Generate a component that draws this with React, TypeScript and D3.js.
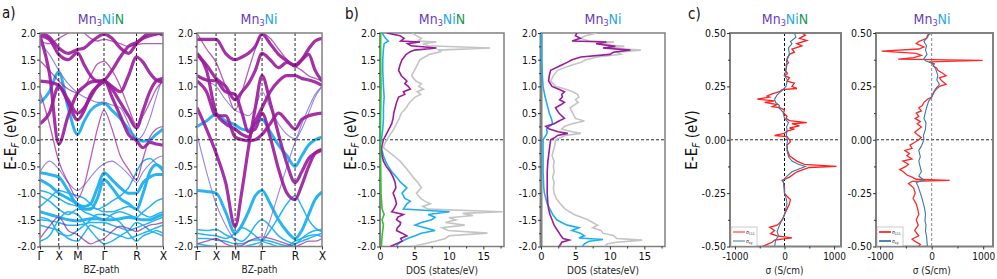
import * as d3 from 'd3';
import React, { useRef, useEffect } from 'react';

// ---- band structure (a) ----
const kPts = [0, 0.25, 0.5, 0.75, 1.0, 1.18, 1.35, 1.53, 1.707, 1.92, 2.14, 2.36, 2.573, 2.75, 2.93, 3.1, 3.28];
const kLabelPos = [0, 0.5, 1.0, 1.707, 2.573, 3.28];
const kLabels = ['Γ', 'X', 'M', 'Γ', 'R', 'X'];

const a1PurpleThick = [
  [1.95, 1.25, -0.08, 0.45, 0.88, 1.0, 1.08, 1.1, 1.1, 0.95, 0.7, 0.45, 0.22, 0.55, 0.9, 1.1, 1.15],
  [1.1, 1.08, 1.02, 0.7, 0.37, 0.55, 0.85, 1.0, 1.1, 1.3, 1.55, 1.75, 1.82, 1.9, 1.95, 1.98, 2.0],
  [2.02, 1.92, 1.72, 1.62, 1.69, 1.72, 1.82, 1.92, 1.98, 1.9, 1.72, 1.62, 1.8, 1.92, 2.0, 2.0, 1.96],
  [1.95, 1.88, 1.6, 1.5, 1.63, 1.4, 1.2, 1.1, 1.1, 1.0, 0.9, 1.2, 1.55, 1.45, 1.25, 1.12, 1.08],
  [0.3, 0.5, 1.0, 0.75, 0.5, 0.6, 0.8, 1.0, 1.12, 0.8, 0.45, 0.1, -0.02, -0.15, -0.05, -0.08, -0.1],
];
const a1PurpleThin = [
  [1.48, 1.3, 1.1, 0.95, 0.88, 0.98, 1.2, 1.42, 1.47, 1.3, 1.0, 0.6, 0.28, 0.45, 0.7, 0.95, 1.1],
  [0.9, 0.3, -0.4, -0.8, -1.1, -0.85, -0.35, 0.2, 0.55, 0.2, -0.3, -0.55, -0.75, -0.35, 0.05, 0.2, 0.25],
  [-1.85, -1.62, -1.45, -1.7, -1.78, -1.88, -1.95, -1.9, -1.85, -1.72, -1.62, -1.66, -1.72, -1.66, -1.6, -1.58, -1.55],
  [1.85, 1.8, 1.9, 2.0, 2.1, 2.0, 1.9, 1.85, 1.88, 1.85, 1.8, 1.75, 1.78, 1.8, 1.8, 1.8, 1.8],
];
const a1Mixed = [
  [-0.6, -0.4, -0.55, -0.8, -0.95, -0.85, -0.7, -0.55, -0.45, -0.4, -0.5, -0.65, -0.8, -0.6, -0.45, -0.35, -0.3],
  [1.8, 1.6, 1.3, 1.05, 0.88, 0.8, 0.75, 0.7, 0.7, 0.65, 0.6, 0.3, 0.0, 0.1, 0.4, 0.8, 1.2],
];
const a1BlueThick = [
  [-0.62, -0.65, -0.7, -0.95, -1.22, -1.25, -1.2, -0.9, -0.62, -0.75, -0.9, -1.0, -1.0, -0.8, -0.7, -0.65, -0.65],
  [-0.75, -0.85, -1.0, -1.1, -1.2, -1.3, -1.3, -1.1, -0.75, -0.9, -1.1, -1.2, -1.3, -1.0, -0.6, -0.47, -0.55],
  [-1.35, -1.4, -1.45, -1.5, -1.52, -1.5, -1.48, -1.48, -1.5, -1.5, -1.48, -1.45, -1.48, -1.5, -1.5, -1.45, -1.4],
  [0.69, 0.9, 1.27, 0.6, 0.1, 0.35, 0.55, 0.65, 0.69, 0.55, 0.4, 0.2, 0.02, -0.03, 0.0, 0.1, 0.2],
];
const a1BlueThin = [
  [-1.05, -1.15, -1.3, -1.4, -1.3, -1.3, -1.28, -1.3, -1.35, -1.35, -1.3, -1.25, -1.3, -1.4, -1.45, -1.4, -1.35],
  [-1.5, -1.52, -1.55, -1.6, -1.6, -1.58, -1.55, -1.55, -1.55, -1.6, -1.65, -1.7, -1.65, -1.6, -1.55, -1.5, -1.45],
  [-1.6, -1.65, -1.7, -1.85, -1.9, -1.75, -1.6, -1.65, -1.7, -1.75, -1.8, -1.85, -1.8, -1.75, -1.7, -1.65, -1.6],
  [-1.25, -1.1, -0.95, -1.0, -1.05, -1.1, -1.2, -1.3, -1.25, -1.15, -1.05, -0.9, -0.6, -0.4, -0.35, -0.45, -0.6],
  [-1.9, -1.8, -1.5, -1.35, -1.4, -1.55, -1.7, -1.85, -1.95, -1.9, -1.8, -1.7, -1.55, -1.6, -1.7, -1.75, -1.8],
  [-0.95, -1.0, -1.1, -1.2, -1.25, -1.35, -1.4, -1.45, -1.5, -1.4, -1.35, -1.4, -1.45, -1.35, -1.25, -1.15, -1.1],
  [-1.45, -1.5, -1.75, -1.8, -1.7, -1.6, -1.5, -1.4, -1.4, -1.45, -1.55, -1.75, -1.9, -1.8, -1.75, -1.7, -1.75],
];

const a2PurpleThick = [
  [0.6, 0.2, -0.25, -0.8, -1.63, -0.95, -0.15, 0.6, 1.2, 0.7, 0.1, -0.45, -0.8, -0.6, -0.35, -0.25, -0.2],
  [1.2, 1.12, 1.1, 0.9, 0.85, 0.5, 0.15, 0.2, 0.5, 0.05, -0.55, -1.0, -1.12, -0.85, -0.5, -0.25, -0.18],
  [1.6, 1.4, 1.15, 1.0, 0.75, 0.9, 1.05, 1.3, 1.62, 1.5, 1.35, 1.45, 1.4, 1.5, 1.6, 1.3, 1.1],
  [1.88, 1.88, 1.88, 1.62, 1.5, 1.55, 1.62, 1.75, 1.98, 1.8, 1.6, 1.48, 1.38, 1.5, 1.7, 1.85, 1.9],
  [1.62, 1.3, 0.5, 0.3, 0.2, 0.1, 0.05, 0.35, 0.6, 0.9, 1.1, 1.2, 1.2, 1.15, 1.12, 1.08, 1.02],
  [1.1, 0.9, 0.45, 0.45, 0.05, 0.0, -0.02, 0.0, 0.1, 0.3, 0.5, 0.35, 0.2, 0.38, 0.45, 0.48, 0.5],
];
const a2PurpleThin = [
  [2.0, 1.7, 1.45, 1.0, 0.55, 0.9, 1.3, 1.7, 2.0, 1.9, 1.7, 1.5, 1.38, 1.3, 1.2, 1.15, 1.1],
  [-1.95, -1.9, -1.85, -1.95, -2.0, -1.98, -1.9, -1.85, -1.82, -1.85, -1.9, -1.95, -2.0, -1.95, -1.9, -1.9, -1.85],
];
const a2Mixed = [
  [0.1, -0.6, -1.2, -1.6, -1.9, -2.1, -2.2, -2.1, -1.9, -1.5, -1.0, -0.5, -0.05, 0.2, 0.5, 0.8, 1.0],
  [1.2, 1.1, 1.0, 0.75, 0.55, 0.5, 0.45, 0.6, 0.9, 0.6, 0.3, 0.1, 0.02, 0.3, 0.6, 0.85, 1.0],
];
const a2BlueThick = [
  [-0.95, -0.97, -1.0, -1.35, -1.75, -1.6, -1.35, -1.05, -0.95, -1.2, -1.5, -1.72, -1.85, -1.7, -1.4, -1.12, -0.98],
  [0.25, 0.35, 0.48, 0.35, 0.28, 0.2, 0.18, 0.3, 0.38, 0.15, -0.1, -0.3, -0.5, -0.3, -0.1, 0.0, 0.05],
];
const a2BlueThin = [
  [-1.68, -1.7, -1.68, -1.78, -1.85, -1.9, -1.8, -1.6, -1.5, -1.62, -1.8, -1.9, -1.95, -1.85, -1.75, -1.7, -1.68],
  [-1.85, -1.85, -1.88, -1.9, -1.95, -1.95, -1.9, -1.88, -1.88, -1.9, -1.95, -1.98, -1.9, -1.85, -1.8, -1.78, -1.82],
  [-1.95, -1.98, -2.0, -2.02, -2.05, -2.02, -1.98, -1.95, -1.9, -1.7, -1.45, -1.2, -1.05, -1.25, -1.5, -1.65, -1.72],
  [-1.75, -1.78, -1.8, -1.85, -1.75, -1.65, -1.7, -1.8, -1.9, -1.95, -2.0, -2.0, -1.95, -1.9, -1.85, -1.8, -1.75],
];

// ---- DOS (b): [E, states/eV] ----
const dosNiNTotal = [[2.0,4.6],[1.95,5.3],[1.9,6.0],[1.85,5.5],[1.83,8.2],[1.8,6.2],[1.76,7.0],[1.72,16.0],[1.68,8.5],[1.65,8.8],[1.6,7.2],[1.5,5.8],[1.4,5.4],[1.3,5.0],[1.2,4.6],[1.1,5.2],[1.05,6.0],[1.0,5.6],[0.95,6.3],[0.9,5.4],[0.85,5.9],[0.8,5.1],[0.7,4.3],[0.6,3.8],[0.5,3.1],[0.4,2.8],[0.3,2.4],[0.2,2.0],[0.1,1.5],[0.0,1.0],[-0.1,0.6],[-0.15,0.5],[-0.2,1.0],[-0.3,2.0],[-0.4,2.9],[-0.5,3.6],[-0.6,4.2],[-0.7,4.8],[-0.8,5.5],[-0.9,6.0],[-1.0,5.3],[-1.1,5.9],[-1.15,6.5],[-1.2,7.3],[-1.25,6.2],[-1.3,7.0],[-1.35,17.8],[-1.38,12.0],[-1.42,13.5],[-1.46,10.0],[-1.5,11.0],[-1.55,9.5],[-1.6,12.3],[-1.65,9.0],[-1.7,9.9],[-1.75,15.6],[-1.8,10.0],[-1.85,9.5],[-1.9,8.0],[-1.95,6.5],[-2.0,4.6]];
const dosNiNMn = [[2.0,1.0],[1.95,2.9],[1.9,3.5],[1.85,3.0],[1.83,5.8],[1.8,4.0],[1.76,4.5],[1.72,8.2],[1.68,5.0],[1.65,4.4],[1.6,3.8],[1.5,3.2],[1.4,2.9],[1.3,2.7],[1.2,3.1],[1.1,3.9],[1.05,3.6],[1.0,4.1],[0.95,4.4],[0.9,3.4],[0.85,3.6],[0.8,2.7],[0.7,2.4],[0.6,2.2],[0.5,2.0],[0.4,1.9],[0.3,1.7],[0.2,1.3],[0.1,0.9],[0.0,0.5],[-0.1,0.3],[-0.2,0.2],[-0.3,0.3],[-0.4,0.5],[-0.5,0.9],[-0.6,1.5],[-0.7,1.9],[-0.8,2.2],[-0.9,2.3],[-1.0,1.9],[-1.1,2.2],[-1.2,2.4],[-1.3,2.0],[-1.35,1.7],[-1.4,3.4],[-1.45,2.6],[-1.5,2.4],[-1.55,3.0],[-1.6,2.9],[-1.65,2.5],[-1.7,2.4],[-1.75,3.2],[-1.8,3.9],[-1.85,3.0],[-1.9,3.2],[-1.95,2.4],[-2.0,1.5]];
const dosNiNNi = [[2.0,0.3],[1.9,0.8],[1.85,1.2],[1.8,0.6],[1.7,0.5],[1.5,0.4],[1.3,0.4],[1.0,0.5],[0.8,0.6],[0.6,0.5],[0.4,0.5],[0.2,0.4],[0.0,0.2],[-0.1,0.0],[-0.2,0.3],[-0.3,0.5],[-0.4,0.8],[-0.5,1.2],[-0.6,1.7],[-0.7,2.4],[-0.8,3.0],[-0.9,3.9],[-1.0,3.2],[-1.1,3.6],[-1.15,4.4],[-1.2,3.9],[-1.3,3.4],[-1.35,10.1],[-1.4,7.0],[-1.45,8.0],[-1.5,7.5],[-1.55,6.0],[-1.6,5.1],[-1.65,6.5],[-1.7,8.0],[-1.75,6.0],[-1.8,5.1],[-1.85,4.0],[-1.9,3.2],[-1.95,2.6],[-2.0,2.4]];
const dosNiNN = [[2.0,0.1],[1.5,0.1],[1.0,0.15],[0.5,0.1],[0.0,0.05],[-0.5,0.1],[-1.0,0.15],[-1.3,0.3],[-1.4,0.6],[-1.5,0.3],[-1.6,0.5],[-1.8,0.3],[-2.0,0.2]];

const dosNiTotal = [[2.0,8.1],[1.95,6.5],[1.9,5.7],[1.85,7.0],[1.83,10.6],[1.79,8.5],[1.75,12.1],[1.72,10.0],[1.68,14.5],[1.64,11.0],[1.6,11.6],[1.55,8.2],[1.5,6.5],[1.45,5.8],[1.4,4.5],[1.3,2.4],[1.2,1.8],[1.1,1.4],[1.0,2.1],[0.95,3.5],[0.9,4.6],[0.85,5.3],[0.8,5.5],[0.75,5.0],[0.7,5.4],[0.65,4.8],[0.6,4.2],[0.5,4.6],[0.4,5.0],[0.35,6.3],[0.3,4.5],[0.25,3.4],[0.2,3.0],[0.15,4.5],[0.12,5.8],[0.08,3.5],[0.0,2.1],[-0.1,2.0],[-0.2,1.8],[-0.3,1.6],[-0.4,1.9],[-0.5,1.8],[-0.6,1.9],[-0.7,1.7],[-0.8,1.9],[-0.9,1.8],[-1.0,1.9],[-1.1,2.2],[-1.2,2.8],[-1.3,3.5],[-1.4,4.8],[-1.5,6.8],[-1.55,7.5],[-1.6,8.2],[-1.65,7.5],[-1.7,8.7],[-1.75,9.0],[-1.8,10.6],[-1.85,11.0],[-1.88,14.7],[-1.92,11.0],[-1.95,9.7],[-2.0,9.2]];
const dosNiMn = [[2.0,5.2],[1.95,5.0],[1.9,5.7],[1.85,4.5],[1.83,9.5],[1.8,8.0],[1.75,10.8],[1.72,9.0],[1.68,13.0],[1.64,10.5],[1.6,10.0],[1.55,5.8],[1.5,4.5],[1.45,3.8],[1.4,3.0],[1.3,1.4],[1.2,1.2],[1.1,1.1],[1.0,1.6],[0.95,2.5],[0.9,3.4],[0.85,3.0],[0.8,3.1],[0.75,2.7],[0.7,3.4],[0.65,2.8],[0.6,2.1],[0.5,2.6],[0.45,3.0],[0.4,3.4],[0.35,2.6],[0.3,1.9],[0.25,0.7],[0.2,1.2],[0.15,2.5],[0.12,3.9],[0.08,2.4],[0.05,2.1],[0.0,1.4],[-0.2,1.2],[-0.4,1.0],[-0.6,0.9],[-0.8,0.9],[-1.0,0.9],[-1.2,1.0],[-1.3,1.1],[-1.4,1.3],[-1.5,1.6],[-1.6,1.9],[-1.7,2.4],[-1.8,2.9],[-1.85,3.2],[-1.88,4.1],[-1.92,3.0],[-1.95,2.9],[-2.0,2.6]];
const dosNiNi = [[2.0,0.1],[1.5,0.1],[1.2,0.2],[1.0,0.3],[0.8,0.6],[0.7,0.8],[0.5,1.2],[0.4,1.5],[0.3,1.7],[0.25,1.2],[0.2,0.8],[0.15,0.9],[0.1,0.8],[0.0,0.3],[-0.3,0.3],[-0.6,0.3],[-0.9,0.4],[-1.0,0.5],[-1.2,0.9],[-1.3,1.3],[-1.4,1.7],[-1.5,2.3],[-1.55,3.0],[-1.6,3.8],[-1.65,5.5],[-1.7,4.5],[-1.75,5.7],[-1.8,6.3],[-1.84,5.5],[-1.87,9.0],[-1.9,7.0],[-1.95,6.3],[-2.0,6.0]];

// ---- AHC (c): [E, S/cm] ----
const ahcNiN111 = [[0.5,350],[0.49,420],[0.475,300],[0.465,450],[0.45,250],[0.44,350],[0.425,150],[0.41,200],[0.4,100],[0.385,60],[0.375,50],[0.36,80],[0.35,30],[0.335,40],[0.325,20],[0.31,60],[0.3,0],[0.29,100],[0.275,50],[0.265,200],[0.25,150],[0.24,250],[0.235,-50],[0.225,-100],[0.215,-250],[0.205,-350],[0.2,-300],[0.19,-550],[0.182,-200],[0.175,-400],[0.165,-150],[0.155,-250],[0.15,-100],[0.14,0],[0.125,-20],[0.11,50],[0.1,30],[0.09,100],[0.08,450],[0.075,150],[0.065,300],[0.055,100],[0.05,200],[0.04,50],[0.03,0],[0.02,-200],[0.015,50],[0.0,100],[-0.01,120],[-0.025,50],[-0.05,60],[-0.075,100],[-0.1,250],[-0.115,400],[-0.125,1050],[-0.13,500],[-0.15,250],[-0.175,100],[-0.19,-50],[-0.2,-20],[-0.225,0],[-0.25,0],[-0.265,50],[-0.28,120],[-0.3,100],[-0.325,50],[-0.35,0],[-0.37,-30],[-0.39,-100],[-0.4,-150],[-0.41,-300],[-0.425,-200],[-0.44,-280],[-0.45,-150],[-0.46,150],[-0.47,-200],[-0.48,-250],[-0.49,-350],[-0.5,-450]];
const ahcNiNxy = [[0.5,200],[0.48,230],[0.46,120],[0.45,150],[0.43,80],[0.4,100],[0.37,40],[0.35,50],[0.32,20],[0.3,0],[0.28,60],[0.25,30],[0.23,-50],[0.21,-150],[0.19,-200],[0.175,-180],[0.16,-100],[0.15,-120],[0.13,-30],[0.1,0],[0.08,80],[0.06,40],[0.05,50],[0.02,40],[0.0,60],[-0.02,50],[-0.05,50],[-0.08,80],[-0.1,150],[-0.115,280],[-0.125,420],[-0.14,250],[-0.15,150],[-0.17,50],[-0.19,-30],[-0.2,-20],[-0.25,0],[-0.28,40],[-0.3,50],[-0.35,0],[-0.38,-60],[-0.4,-100],[-0.43,-150],[-0.45,-120],[-0.47,-180],[-0.5,-200]];
const ahcNi111 = [[0.5,0],[0.49,-80],[0.475,-100],[0.46,-250],[0.45,-300],[0.435,-150],[0.425,-250],[0.415,-970],[0.405,-300],[0.395,-200],[0.385,-350],[0.378,-650],[0.372,990],[0.365,-50],[0.355,50],[0.345,30],[0.335,100],[0.325,120],[0.31,220],[0.3,280],[0.29,150],[0.275,200],[0.26,280],[0.25,150],[0.24,100],[0.225,50],[0.21,20],[0.2,0],[0.19,-80],[0.175,-150],[0.16,-180],[0.15,-250],[0.135,-200],[0.125,-300],[0.11,-250],[0.1,-320],[0.085,-220],[0.075,-280],[0.06,-200],[0.05,-250],[0.035,-330],[0.025,-280],[0.01,-200],[0.0,-250],[-0.015,-350],[-0.025,-420],[-0.04,-380],[-0.05,-520],[-0.065,-430],[-0.075,-480],[-0.09,-380],[-0.1,-560],[-0.115,-450],[-0.125,-500],[-0.14,-620],[-0.15,-550],[-0.165,-480],[-0.175,-380],[-0.185,-300],[-0.19,350],[-0.195,-380],[-0.205,-450],[-0.225,-350],[-0.25,-320],[-0.275,-360],[-0.3,-300],[-0.325,-270],[-0.35,-250],[-0.375,-300],[-0.4,-260],[-0.425,-330],[-0.45,-250],[-0.465,-380],[-0.475,-330],[-0.49,-220],[-0.5,-250]];
const ahcNixy = [[0.5,-40],[0.48,-80],[0.46,-150],[0.44,-100],[0.42,-120],[0.4,-90],[0.38,-150],[0.37,-120],[0.36,0],[0.35,30],[0.33,80],[0.3,120],[0.28,100],[0.26,150],[0.24,80],[0.22,30],[0.2,0],[0.18,-60],[0.15,-100],[0.12,-130],[0.1,-150],[0.08,-110],[0.05,-120],[0.02,-160],[0.0,-150],[-0.03,-200],[-0.05,-250],[-0.08,-220],[-0.1,-250],[-0.12,-230],[-0.15,-200],[-0.17,-250],[-0.19,-150],[-0.2,-300],[-0.22,-260],[-0.25,-220],[-0.28,-180],[-0.3,-160],[-0.33,-130],[-0.35,-120],[-0.38,-130],[-0.4,-110],[-0.43,-120],[-0.45,-100],[-0.48,-90],[-0.5,-80]];

const eTicks = [-2, -1.5, -1, -0.5, 0, 0.5, 1, 1.5, 2];
const eMinor = [-1.75, -1.25, -0.75, -0.25, 0.25, 0.75, 1.25, 1.75];
const dosTicks = [0, 5, 10, 15];
const dosMinor = [2.5, 7.5, 12.5, 17.5];
const sTicksY = [-0.5, -0.25, 0, 0.25, 0.5];
const sMinorY = [-0.375, -0.125, 0.125, 0.375];
const sTicksX = [-1000, 0, 1000];
const sMinorX = [-500, 500];

const FONT = "'DejaVu Sans Condensed', 'DejaVu Sans', sans-serif";
const PURPLE = '#9a1b9c';
const BLUE = '#1db0f0';
const LAV = '#7c67d6';
const FRAME = '#808080';

const Y0 = 33, Y1 = 246.5;

function App() {
  const ref = useRef(null);

  useEffect(() => {
    const svg = d3.select(ref.current);
    svg.selectAll('*').remove();
    let clipN = 0;

    const title = (cx, parts) => {
      const t = svg.append('text').attr('x', cx).attr('y', 24).attr('text-anchor', 'middle')
        .style('font-family', FONT).style('font-size', '14px');
      let prevSub = false;
      parts.forEach(([s, c, sub]) => {
        const ts = t.append('tspan').attr('fill', c).text(s);
        if (sub) ts.style('font-size', '9px').attr('dy', 2);
        else if (prevSub) ts.attr('dy', -2);
        prevSub = !!sub;
      });
    };
    const titleNiN = (cx) => title(cx, [['Mn', '#6b3db8'], ['3', '#6b3db8', true], ['Ni', '#27a6e8'], ['N', '#17994f']]);
    const titleNi = (cx) => title(cx, [['Mn', '#6b3db8'], ['3', '#6b3db8', true], ['Ni', '#27a6e8']]);

    const ylabel = (x, cy) => {
      const t = svg.append('text').attr('transform', `translate(${x},${cy}) rotate(-90)`)
        .attr('text-anchor', 'middle').style('font-family', FONT).style('font-size', '15px').attr('fill', '#111');
      t.append('tspan').text('E-E');
      t.append('tspan').text('F').style('font-style', 'italic').style('font-size', '10px').attr('dy', 3);
      t.append('tspan').text(' (eV)').attr('dy', -3);
    };

    const leftAxis = (x0, y, major, minor, fmt) => {
      const g = svg.append('g').attr('transform', `translate(${x0},0)`)
        .call(d3.axisLeft(y).tickValues(major).tickSize(3).tickPadding(1).tickFormat(fmt));
      g.select('.domain').remove();
      g.selectAll('line').attr('stroke', '#333');
      g.selectAll('text').style('font-family', FONT).style('font-size', '10.5px').attr('fill', '#111');
      const m = svg.append('g').attr('transform', `translate(${x0},0)`).call(d3.axisLeft(y).tickValues(minor).tickSize(2).tickFormat(''));
      m.select('.domain').remove();
      m.selectAll('line').attr('stroke', '#333');
    };
    const bottomAxis = (x, major, minor, fmt, size) => {
      const g = svg.append('g').attr('transform', `translate(0,${Y1})`)
        .call(d3.axisBottom(x).tickValues(major).tickSize(3).tickPadding(3).tickFormat(fmt));
      g.select('.domain').remove();
      g.selectAll('line').attr('stroke', '#333');
      g.selectAll('text').style('font-family', FONT).style('font-size', size).attr('fill', '#111');
      if (minor) {
        const m = svg.append('g').attr('transform', `translate(0,${Y1})`).call(d3.axisBottom(x).tickValues(minor).tickSize(2).tickFormat(''));
        m.select('.domain').remove();
        m.selectAll('line').attr('stroke', '#333');
      }
    };
    const frame = (x0, x1, w) => svg.append('rect').attr('x', x0).attr('y', Y0).attr('width', x1 - x0).attr('height', Y1 - Y0)
      .attr('fill', 'none').attr('stroke', FRAME).attr('stroke-width', w);
    const clip = (x0, x1) => {
      const id = 'clp' + (clipN++);
      svg.append('clipPath').attr('id', id).append('rect').attr('x', x0).attr('y', Y0).attr('width', x1 - x0).attr('height', Y1 - Y0);
      return svg.append('g').attr('clip-path', `url(#${id})`);
    };
    const xlabel = (cx, y, txt) => svg.append('text').attr('x', cx).attr('y', y).attr('text-anchor', 'middle')
      .style('font-family', FONT).style('font-size', '10px').attr('fill', '#222').text(txt);
    const panelTag = (x, y, txt) => svg.append('text').attr('x', x).attr('y', y)
      .style('font-family', FONT).style('font-size', '15px').attr('fill', '#111').text(txt);

    // ---------- (a) band structures ----------
    const drawBands = (x0, x1, groups) => {
      const x = d3.scaleLinear().domain([0, 3.28]).range([x0, x1]);
      const y = d3.scaleLinear().domain([-2, 2]).range([Y1, Y0]);
      const g = clip(x0, x1);
      const line = d3.line().x((d, i) => x(kPts[i])).y(d => y(d)).curve(d3.curveMonotoneX);
      groups.forEach(([bands, color, w, op]) => {
        g.selectAll(null).data(bands).enter().append('path')
          .attr('d', d => line(d)).attr('fill', 'none').attr('stroke', color)
          .attr('stroke-width', w).attr('stroke-opacity', op);
      });
      kLabelPos.slice(1, -1).forEach(k => {
        g.append('line').attr('x1', x(k)).attr('x2', x(k)).attr('y1', Y0).attr('y2', Y1)
          .attr('stroke', '#111').attr('stroke-width', 0.9).attr('stroke-dasharray', '3,2');
      });
      g.append('line').attr('x1', x0).attr('x2', x1).attr('y1', y(0)).attr('y2', y(0))
        .attr('stroke', '#111').attr('stroke-width', 0.9).attr('stroke-dasharray', '3,2');
      frame(x0, x1, 1.5);
      leftAxis(x0, y, eTicks, eMinor, d => d.toFixed(1));
      const b = svg.append('g').attr('transform', `translate(0,${Y1})`)
        .call(d3.axisBottom(x).tickValues(kLabelPos).tickSize(3).tickPadding(2).tickFormat((d, i) => kLabels[i]));
      b.select('.domain').remove();
      b.selectAll('line').attr('stroke', '#333');
      b.selectAll('text').style('font-family', FONT).style('font-size', '12px').attr('fill', '#111');
      xlabel((x0 + x1) / 2, 273, 'BZ-path');
    };

    drawBands(40, 163, [
      [a1BlueThin, BLUE, 1.5, 0.95], [a1BlueThick, BLUE, 3, 0.95], [a1Mixed, LAV, 1.1, 0.8],
      [a1PurpleThin, PURPLE, 1.3, 0.7], [a1PurpleThick, PURPLE, 3.2, 0.9],
    ]);
    drawBands(197, 322, [
      [a2BlueThin, BLUE, 1.5, 0.95], [a2BlueThick, BLUE, 3, 0.95], [a2Mixed, LAV, 1.1, 0.8],
      [a2PurpleThin, PURPLE, 1.3, 0.7], [a2PurpleThick, PURPLE, 3.2, 0.9],
    ]);
    titleNiN(101);
    titleNi(259);
    ylabel(16, 140);
    panelTag(2, 18, 'a)');

    // ---------- (b) DOS ----------
    const drawDos = (x0, x1, series, leftW) => {
      const x = d3.scaleLinear().domain([0, 18]).range([x0, x1]);
      const y = d3.scaleLinear().domain([-2, 2]).range([Y1, Y0]);
      const g = clip(x0, x1);
      const line = d3.line().x(d => x(d[1])).y(d => y(d[0]));
      g.append('line').attr('x1', x0).attr('x2', x1).attr('y1', y(0)).attr('y2', y(0))
        .attr('stroke', '#111').attr('stroke-width', 0.9).attr('stroke-dasharray', '3,2');
      frame(x0, x1, 1.5);
      svg.append('line').attr('x1', x0).attr('x2', x0).attr('y1', Y0).attr('y2', Y1)
        .attr('stroke', FRAME).attr('stroke-width', leftW);
      const g2 = clip(x0 - 2, x1);
      series.forEach(([d, c]) => {
        g2.append('path').attr('d', line(d)).attr('fill', 'none').attr('stroke', c).attr('stroke-width', 1.6);
      });
      leftAxis(x0, y, eTicks, eMinor, d => d.toFixed(1));
      bottomAxis(x, dosTicks, dosMinor, d => d, '11px');
      xlabel((x0 + x1) / 2, 274, 'DOS (states/eV)');
    };
    drawDos(380, 504, [[dosNiNTotal, '#c4c4c4'], [dosNiNNi, BLUE], [dosNiNMn, PURPLE], [dosNiNN, '#33c233']], 1.5);
    drawDos(541, 665, [[dosNiTotal, '#c4c4c4'], [dosNiNi, BLUE], [dosNiMn, PURPLE]], 3);
    titleNiN(442);
    titleNi(603);
    ylabel(356, 140);
    panelTag(345, 19, 'b)');

    // ---------- (c) AHC ----------
    const drawAhc = (x0, x1, dom, red, blue, redC, zeroC, leg) => {
      const x = d3.scaleLinear().domain(dom).range([x0, x1]);
      const y = d3.scaleLinear().domain([-0.5, 0.5]).range([Y1, Y0]);
      const g = clip(x0, x1);
      const line = d3.line().x(d => x(d[1])).y(d => y(d[0]));
      g.append('line').attr('x1', x0).attr('x2', x1).attr('y1', y(0)).attr('y2', y(0))
        .attr('stroke', '#111').attr('stroke-width', 0.9).attr('stroke-dasharray', '3,2');
      g.append('line').attr('x1', x(0)).attr('x2', x(0)).attr('y1', Y0).attr('y2', Y1)
        .attr('stroke', zeroC).attr('stroke-width', 1).attr('stroke-dasharray', '3,2');
      g.append('path').attr('d', line(red)).attr('fill', 'none').attr('stroke', redC).attr('stroke-width', 1.3);
      g.append('path').attr('d', line(blue)).attr('fill', 'none').attr('stroke', '#3c78a8').attr('stroke-width', 1.1);
      frame(x0, x1, 2);
      leftAxis(x0, y, sTicksY, sMinorY, d => d.toFixed(2));
      bottomAxis(x, sTicksX, sMinorX, d => String(d), '10px');
      xlabel(x(0), 274, 'σ (S/cm)');
      // legend
      const lg = svg.append('g');
      lg.append('rect').attr('x', x0 + 1).attr('y', 227).attr('width', 26).attr('height', 19)
        .attr('fill', 'white').attr('stroke', '#999').attr('stroke-width', 0.5);
      [[redC, '111', 232], ['#3c78a8', 'xy', 241]].forEach(([c, sub, yy]) => {
        lg.append('line').attr('x1', x0 + 3).attr('x2', x0 + 15).attr('y1', yy).attr('y2', yy)
          .attr('stroke', c).attr('stroke-width', leg);
        const t = lg.append('text').attr('x', x0 + 16).attr('y', yy + 1.5)
          .style('font-family', FONT).style('font-size', '5px').attr('fill', '#222');
        t.append('tspan').text('σ');
        t.append('tspan').text(sub).style('font-size', '3.5px').attr('dy', 1);
      });
    };
    drawAhc(730, 841, [-1100, 1140], ahcNiN111, ahcNiNxy, '#ff1f1f', '#111', 1);
    drawAhc(876, 993, [-1080, 1190], ahcNi111, ahcNixy, '#ff2a2a', '#888', 1.8);
    titleNiN(785);
    titleNi(932);
    ylabel(697, 140);
    panelTag(688, 19, 'c)');
  });

  return (
    <div style={{ position: 'absolute', left: 0, top: 0 }}>
      <svg ref={ref} width={997} height={279} style={{ display: 'block', background: 'white' }}></svg>
    </div>
  );
}

export default App;
